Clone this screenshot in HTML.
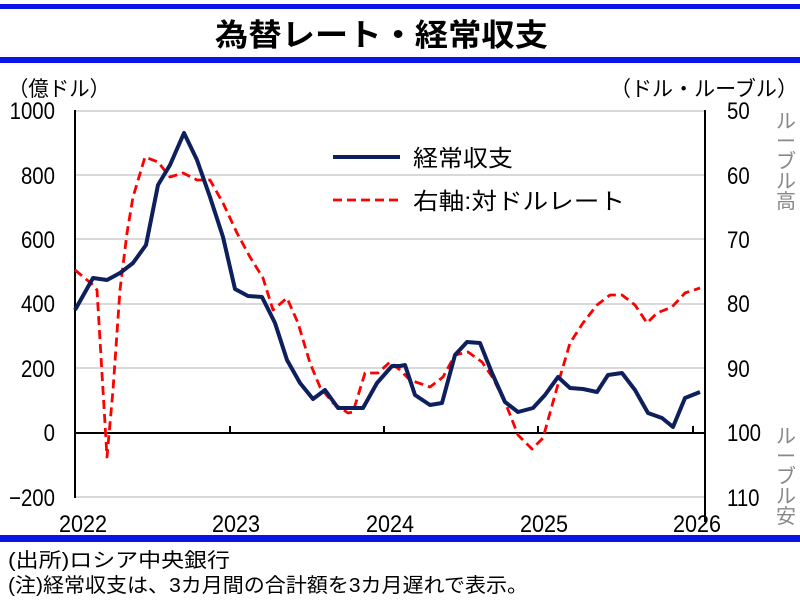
<!DOCTYPE html>
<html><head><meta charset="utf-8"><style>
html,body{margin:0;padding:0;background:#fff;}
svg{display:block;}
text{font-family:"Liberation Sans","Noto Sans CJK JP",sans-serif;}
</style></head><body>
<svg width="800" height="613" viewBox="0 0 800 613" xmlns="http://www.w3.org/2000/svg">
<rect x="0" y="0" width="800" height="613" fill="#fff"/>
<rect x="0" y="4" width="800" height="5" fill="#0a14e6"/>
<rect x="0" y="57" width="800" height="6" fill="#0a14e6"/>
<rect x="0" y="535" width="800" height="7" fill="#0a14e6"/>
<text x="215" y="46" font-size="31" font-weight="bold" textLength="333" lengthAdjust="spacingAndGlyphs">為替レート・経常収支</text>
<text x="8" y="96" font-size="21" textLength="102" lengthAdjust="spacingAndGlyphs">（億ドル）</text>
<text x="610" y="96" font-size="21" textLength="188" lengthAdjust="spacingAndGlyphs">（ドル・ルーブル）</text>
<g stroke="#d9d9d9" stroke-width="2">
<line x1="75" y1="111" x2="705" y2="111"/><line x1="75" y1="175" x2="705" y2="175"/>
<line x1="75" y1="239" x2="705" y2="239"/><line x1="75" y1="304" x2="705" y2="304"/>
<line x1="75" y1="368" x2="705" y2="368"/><line x1="75" y1="497" x2="705" y2="497"/>
</g>
<g stroke="#000" stroke-width="2">
<line x1="75" y1="110" x2="75" y2="498"/><line x1="705" y1="110" x2="705" y2="522"/>
<line x1="75" y1="433" x2="705" y2="433"/>
<line x1="230" y1="426" x2="230" y2="433"/><line x1="384" y1="426" x2="384" y2="433"/>
<line x1="538" y1="426" x2="538" y2="433"/><line x1="693" y1="426" x2="693" y2="433"/>
</g>
<g font-size="24" text-anchor="end" transform="translate(55,0) scale(0.85,1) translate(-55,0)">
<text x="55" y="119">1000</text><text x="55" y="184">800</text><text x="55" y="248">600</text>
<text x="55" y="312">400</text><text x="55" y="377">200</text><text x="55" y="441">0</text><text x="55" y="506">−200</text>
</g>
<g font-size="24" transform="translate(727,0) scale(0.85,1) translate(-727,0)">
<text x="727" y="119">50</text><text x="727" y="184">60</text><text x="727" y="248">70</text>
<text x="727" y="312">80</text><text x="727" y="377">90</text><text x="727" y="441">100</text><text x="727" y="506">110</text>
</g>
<g font-size="24" text-anchor="middle">
<text x="83" y="532" textLength="48" lengthAdjust="spacingAndGlyphs">2022</text><text x="236" y="532" textLength="48" lengthAdjust="spacingAndGlyphs">2023</text><text x="390" y="532" textLength="48" lengthAdjust="spacingAndGlyphs">2024</text>
<text x="544" y="532" textLength="48" lengthAdjust="spacingAndGlyphs">2025</text><text x="697" y="532" textLength="48" lengthAdjust="spacingAndGlyphs">2026</text>
</g>
<g font-size="20" fill="#888" text-anchor="middle">
<text x="786" y="128">ル</text><text x="786" y="148">ー</text><text x="786" y="168">ブ</text><text x="786" y="188">ル</text><text x="786" y="208">高</text>
<text x="786" y="443">ル</text><text x="786" y="463">ー</text><text x="786" y="483">ブ</text><text x="786" y="503">ル</text><text x="786" y="523">安</text>
</g>
<polyline fill="none" stroke="#f00" stroke-width="2.8" stroke-dasharray="9,5" stroke-linejoin="round" points="75,270 93,285 97,290 107,457 113,390 120,290 127,233 133,197 145,157 158,162 170,177 183,173 197,180 210,180 223,203 237,233 250,257 263,278 273,310 287,298 298,323 310,363 320,387 333,403 348,413 353,412 365,373 378,373 390,362 400,370 410,380 430,387 443,377 455,355 468,352 482,362 493,378 507,407 518,435 532,449 543,438 560,377 570,343 583,323 597,305 610,295 622,295 635,305 647,323 657,313 672,307 685,293 700,288"/>
<polyline fill="none" stroke="#0d1f5c" stroke-width="4" stroke-linejoin="round" points="75,310 93,278 107,280 120,273 133,263 146,245 158,185 170,165 184,133 197,160 210,197 223,237 235,289 248,296 262,297 275,323 287,360 300,383 313,399 325,390 338,408 363,408 377,383 392,366 400,366 405,365 415,395 430,405 442,403 455,355 467,342 480,343 492,373 505,402 518,412 533,408 545,395 558,377 570,388 583,389 597,392 608,375 622,373 635,390 648,413 662,418 673,427 685,398 700,392"/>
<line x1="333" y1="157" x2="400" y2="157" stroke="#0d1f5c" stroke-width="4"/>
<line x1="333" y1="200" x2="400" y2="200" stroke="#f00" stroke-width="2.8" stroke-dasharray="9,5"/>
<text x="413" y="166" font-size="23" textLength="100" lengthAdjust="spacingAndGlyphs">経常収支</text>
<text x="413" y="209" font-size="23" textLength="212" lengthAdjust="spacingAndGlyphs">右軸:対ドルレート</text>
<text x="8" y="567" font-size="20" textLength="222" lengthAdjust="spacingAndGlyphs">(出所)ロシア中央銀行</text>
<text x="8" y="592" font-size="20" textLength="520" lengthAdjust="spacingAndGlyphs">(注)経常収支は、3カ月間の合計額を3カ月遅れで表示。</text>
</svg>
</body></html>
